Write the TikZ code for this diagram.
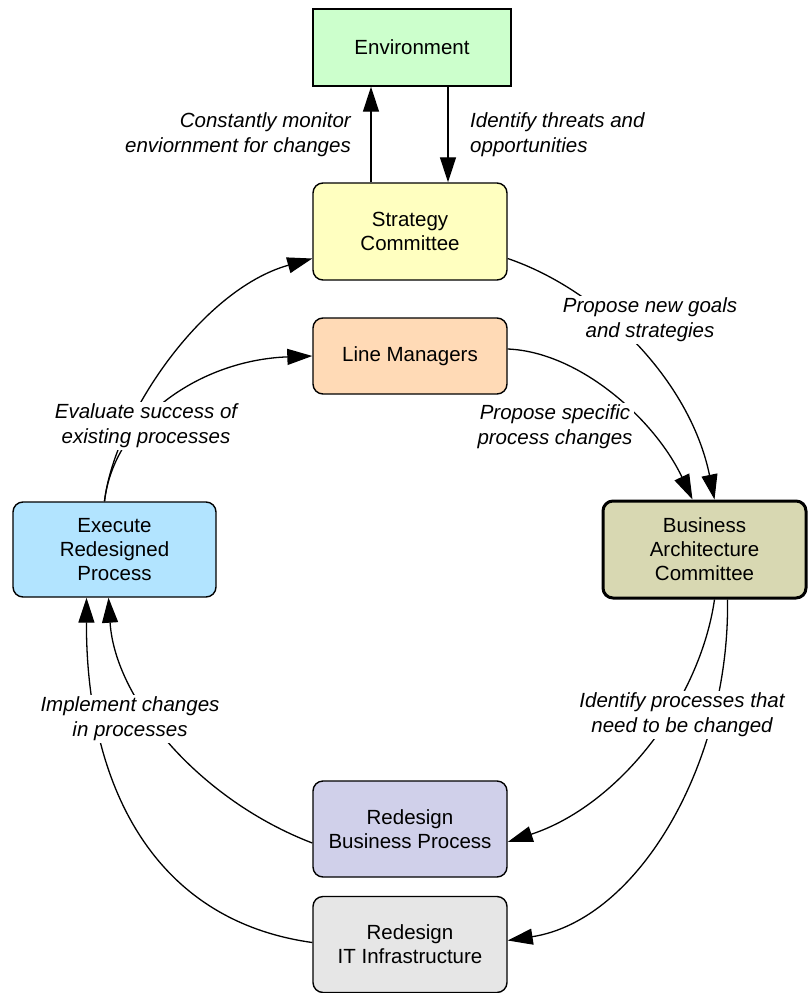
\documentclass[tikz,border=0pt]{standalone}
\usepackage{fontspec}
\setmainfont{Liberation Sans}
\usepackage{tikz}
\usetikzlibrary{arrows.meta}
\usetikzlibrary{shapes}
\definecolor{envgreen}{RGB}{204,255,204}
\definecolor{stratyellow}{RGB}{255,255,192}
\definecolor{lmpeach}{RGB}{255,218,182}
\definecolor{bacolive}{RGB}{216,216,178}
\definecolor{execblue}{RGB}{178,228,255}
\definecolor{rbplav}{RGB}{208,208,234}
\definecolor{ritgray}{RGB}{230,230,230}

\begin{document}
\begin{tikzpicture}[x=1pt,y=-1pt,
  box/.style={draw,line width=1.4pt,rounded corners=10pt,minimum width=194pt,minimum height=96pt,
    align=center,font=\fontsize{20.5}{24}\selectfont},
  lbl/.style={fill=white,inner sep=2pt,align=center,font=\fontsize{20.5}{25}\selectfont\itshape},
  arr/.style={line width=1.3pt,-{Triangle[length=25pt,width=16pt]}}]
\useasboundingbox (0,0) rectangle (807,993);
\node[box,sharp corners,fill=envgreen,minimum width=198pt,minimum height=77pt] (env) at (412,47.5) {Environment};
\node[box,fill=stratyellow,minimum height=97pt] (strat) at (410,231.5) {Strategy\\Committee};
\node[box,fill=lmpeach,minimum height=76pt] (lineman) at (410,356) {Line Managers};
\node[box,fill=bacolive,line width=3pt,minimum width=203pt,minimum height=97pt] (bac) at (704.5,549.5) {Business\\Architecture\\Committee};
\node[box,fill=execblue,minimum width=203pt,minimum height=95pt] (exec) at (114.5,549.5) {Execute\\Redesigned\\Process};
\node[box,fill=rbplav] (rbp) at (410,829) {Redesign\\Business Process};
\node[box,fill=ritgray] (rit) at (410,944.5) {Redesign\\IT Infrastructure};

\draw[arr] ([xshift=-39pt]strat.north) -- ([xshift=-41pt]env.south);
\draw[arr] ([xshift=36pt]env.south) -- ([xshift=38pt]strat.north);
\draw[arr] ([yshift=-27pt]strat.east) .. controls (600,290) and (690,380) .. ([xshift=10pt]bac.north);
\draw[arr] ([yshift=7pt]lineman.east) .. controls (580,352) and (655,420) .. ([xshift=-12pt]bac.north);
\draw[arr] ([xshift=-10pt]exec.north) .. controls (114,420) and (200,290) .. ([yshift=-27pt]strat.west);
\draw[arr] ([xshift=-10pt]exec.north) .. controls (114,420) and (200,360) .. (lineman.west);
\draw[arr] ([xshift=10pt]bac.south) .. controls (700,700) and (620,805) .. ([yshift=-13pt]rbp.east);
\draw[arr] ([xshift=23pt]bac.south) .. controls (730,760) and (640,920) .. ([yshift=4pt]rit.east);
\draw[arr] ([yshift=-14pt]rbp.west) .. controls (200,800) and (115,700) .. ([xshift=-6pt]exec.south);
\draw[arr] ([yshift=2pt]rit.west) .. controls (150,920) and (86,780) .. ([xshift=-28pt]exec.south);

\node[lbl,align=right,anchor=east] (lmon) at (353,135) {Constantly monitor\\enviornment for changes};
\node[lbl,align=left,anchor=west] (lthreat) at (468,135) {Identify threats and\\opportunities};
\node[lbl] (lgoals) at (650,320) {Propose new goals\\and strategies};
\node[lbl] (lspec) at (555,427) {Propose specific\\process changes};
\node[lbl] (leval) at (146,426) {Evaluate success of\\existing processes};
\node[lbl] (lbac) at (682,715) {Identify processes that\\need to be changed};
\node[lbl] (limpl) at (130,719) {Implement changes\\in processes};
\end{tikzpicture}
\end{document}
